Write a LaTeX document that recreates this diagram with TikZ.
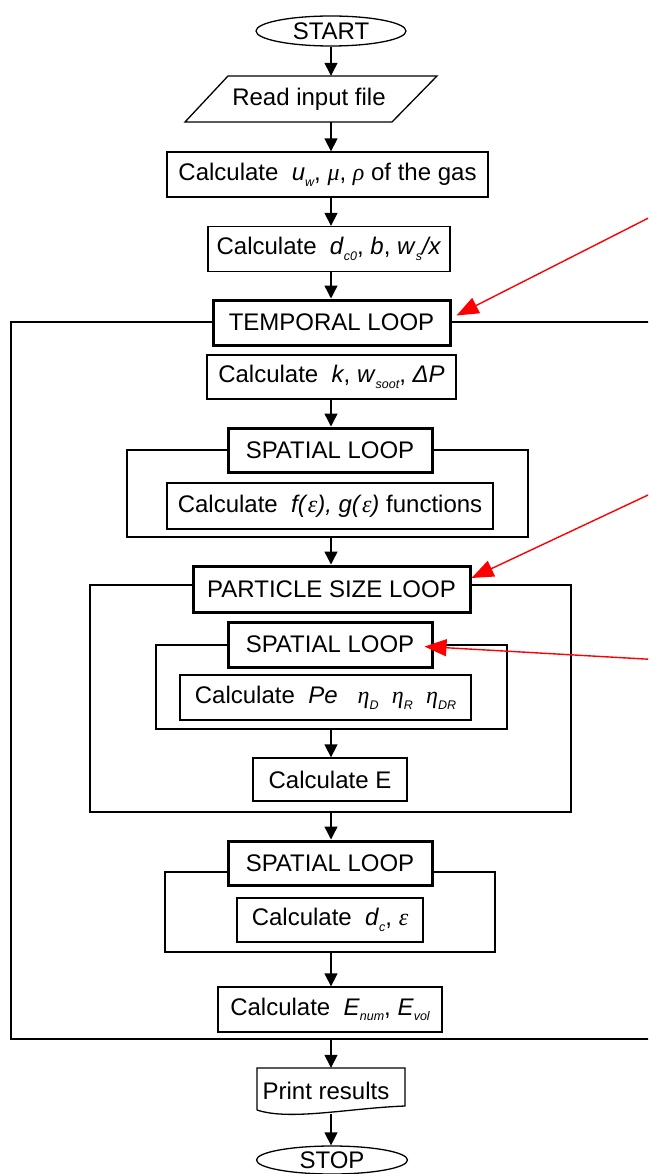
\documentclass[tikz,border=0pt]{standalone}
\usepackage{fontspec}
\setmainfont{Liberation Sans}
\newfontfamily\gk{Liberation Serif}
\usetikzlibrary{arrows.meta,shapes.geometric}
\newcommand\sbs[1]{\raisebox{-0.45ex}{\fontsize{12.5}{12.5}\selectfont\itshape #1}}
\newcommand\gr[1]{{\gk\itshape #1}}
\begin{document}
\begin{tikzpicture}[x=1pt,y=-1pt,
  every node/.style={font=\fontsize{24}{28}\selectfont, inner sep=2pt},
  box/.style={draw, line width=1.3pt, fill=white, minimum height=45},
  hdr/.style={draw, line width=3pt, fill=white, minimum height=45, minimum width=204},
  term/.style={draw, ellipse, line width=1.3pt, fill=white, minimum width=150, minimum height=30, inner sep=0pt},
  loopline/.style={draw, line width=1.4pt},
  arr/.style={line width=1.4pt, -{Triangle[length=13pt,width=13pt]}},
  redarr/.style={red, line width=1.4pt, -{Triangle[length=22pt,width=17pt]}}]
\useasboundingbox (0,0) rectangle (648,1174);
\clip (0,0) rectangle (648,1174);

% loop frames
\draw[loopline] (11,322) rectangle (700,1039);
\draw[loopline] (127,450) rectangle (528,537);
\draw[loopline] (90,585) rectangle (571,812);
\draw[loopline] (156,645) rectangle (507,729);
\draw[loopline] (165,872) rectangle (495,952);

% nodes
\node[term] (start) at (331,31) {START};
\draw[line width=1.3pt, fill=white] (228,76) -- (437,76) -- (392,122) -- (185,122) -- cycle;
\node[minimum height=46, minimum width=150] (read) at (309,99) {Read input file};
\node[box, minimum width=321] (calc1) at (327.5,174.5)
  {Calculate~~\textit{u}\sbs{w}, \gr{μ}, \gr{ρ} of the gas};
\node[box, minimum width=242] (calc2) at (329,249)
  {Calculate~~\textit{d}\sbs{c0}, \textit{b}, \textit{w}\sbs{s}\textit{/x}};
\node[hdr, minimum width=237] (temporal) at (331.5,322.5) {TEMPORAL LOOP};
\node[box, minimum width=249, minimum height=44] (calck) at (331.5,377)
  {Calculate~~\textit{k}, \textit{w}\sbs{soot}, \textit{ΔP}};
\node[hdr, minimum height=44] (sp1) at (330,450) {SPATIAL LOOP};
\node[box, minimum width=326, minimum height=46] (calcf) at (330,506)
  {Calculate~~\textit{f(}\gr{ε}\textit{), g(}\gr{ε}\textit{)} functions};
\node[hdr, minimum width=277, minimum height=46] (particle) at (331.5,589) {PARTICLE SIZE LOOP};
\node[hdr] (sp2) at (330,644.5) {SPATIAL LOOP};
\node[box, minimum width=291] (calcpe) at (325.5,697.5)
  {Calculate~~\textit{Pe}~~~\gr{η}\sbs{D}~~\gr{η}\sbs{R}~~\gr{η}\sbs{DR}};
\node[box, minimum width=154, minimum height=43] (calce) at (330,779.5) {Calculate E};
\node[hdr, minimum height=44] (sp3) at (330,863) {SPATIAL LOOP};
\node[box, minimum width=186, minimum height=44] (calcdc) at (330,920)
  {Calculate~~\textit{d}\sbs{c}, \gr{ε}};
\node[box, minimum width=224] (calcen) at (330,1009.5)
  {Calculate~~\textit{E}\sbs{num}, \textit{E}\sbs{vol}};
\draw[line width=1.3pt, fill=white] (257,1110) -- (257,1068) -- (405,1068) -- (405,1106)
  .. controls (350,1108) and (290,1121) .. (257,1110);
\node[minimum width=140, minimum height=46] (print) at (326,1091) {Print results};
\node[term, minimum width=151, minimum height=28] (stop) at (332,1160) {STOP};

% loop bottoms
\coordinate (sp1bot) at (331,537);
\coordinate (sp2bot) at (331,729);
\coordinate (partbot) at (331,812);
\coordinate (sp3bot) at (331,952);
\coordinate (tempbot) at (331,1039);

% connectors
\draw[arr] (start.south) -- (start.south |- read.north);
\draw[arr] (start |- read.south) -- (start |- calc1.north);
\draw[arr] (start |- calc1.south) -- (start |- calc2.north);
\draw[arr] (start |- calc2.south) -- (start |- temporal.north);
\draw[arr] (start |- calck.south) -- (start |- sp1.north);
\draw[arr] (sp1bot) -- (sp1bot |- particle.north);
\draw[arr] (sp2bot) -- (sp2bot |- calce.north);
\draw[arr] (partbot) -- (partbot |- sp3.north);
\draw[arr] (sp3bot) -- (sp3bot |- calcen.north);
\draw[arr] (tempbot) -- (tempbot |- print.north);
\draw[arr] (start |- print.south) -- (start |- stop.north);

% red pointers
\coordinate (r1) at (680,202);
\coordinate (r2) at (680,480);
\coordinate (r3) at (680,661);
\draw[redarr] (r1) -- ([xshift=5pt,yshift=7pt]temporal.east);
\draw[redarr] (r2) -- ([yshift=11pt]particle.east);
\draw[redarr] (r3) -- ([xshift=-9pt,yshift=-2pt]sp2.east);
\end{tikzpicture}
\end{document}
